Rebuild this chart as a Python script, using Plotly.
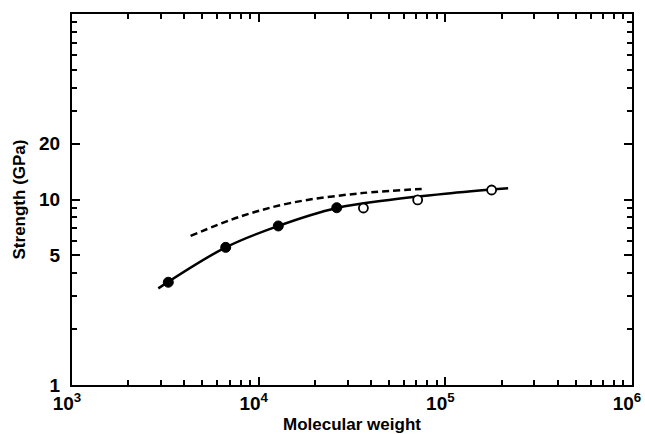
import plotly.graph_objects as go

# data (log-log)
mw_filled = [3280, 6660, 12740, 26200]
strength_filled = [3.58, 5.52, 7.2, 9.03]

mw_open = [36400, 71100, 177000]
strength_open = [9.0, 9.95, 11.25]

mw_fit = [2900, 6660, 12740, 26200, 50000, 100000, 217000]
strength_fit = [3.32, 5.52, 7.2, 9.0, 9.95, 10.75, 11.5]

mw_dash = [4320, 7940, 15000, 35000, 74700]
strength_dash = [6.36, 8.08, 9.6, 10.8, 11.4]

x_major = [1e3, 1e4, 1e5, 1e6]
x_labels = ["10<sup>3</sup>", "10<sup>4</sup>", "10<sup>5</sup>", "10<sup>6</sup>"]
y_major = [1, 5, 10, 20]
y_labels = ["1", "5", "10", "20"]

x_minor = [m * 10 ** d for d in (3, 4, 5) for m in range(2, 10)]
y_minor = [m * 10 ** d for d in (0, 1) for m in range(2, 10) if m * 10 ** d not in (5, 10, 20)]

font = dict(family="Liberation Sans, Arial, sans-serif", color="black")

fig = go.Figure()
fig.add_trace(go.Scatter(x=mw_dash, y=strength_dash, mode="lines",
                         line=dict(color="black", width=2.5, dash="7px,4px", shape="spline"),
                         showlegend=False))
fig.add_trace(go.Scatter(x=mw_fit, y=strength_fit, mode="lines",
                         line=dict(color="black", width=2.5, shape="spline"),
                         showlegend=False))
fig.add_trace(go.Scatter(x=mw_filled, y=strength_filled, mode="markers",
                         marker=dict(color="black", size=10, line=dict(color="black", width=1)),
                         showlegend=False))
fig.add_trace(go.Scatter(x=mw_open, y=strength_open, mode="markers",
                         marker=dict(color="white", size=9, line=dict(color="black", width=1.8)),
                         showlegend=False))

axis_common = dict(
    showgrid=False, zeroline=False, automargin=False,
    showline=True, linecolor="black", linewidth=2,
    mirror="allticks", ticks="inside", tickcolor="black", tickwidth=1.5, ticklen=8,
    tickfont=dict(size=19, weight="bold", **font),
)

fig.update_xaxes(type="log", range=[3, 6], tickmode="array", tickvals=x_major, ticktext=x_labels,
                 minor=dict(tickmode="array", tickvals=x_minor, ticks="inside", ticklen=5,
                            tickcolor="black", tickwidth=1.5, showgrid=False),
                 title=dict(text="Molecular weight", font=dict(size=17, weight="bold", **font), standoff=8),
                 ticklabelstandoff=0, ticklabelshift=-5,
                 **axis_common)
fig.update_yaxes(type="log", range=[0, 2], tickmode="array", tickvals=y_major, ticktext=y_labels,
                 minor=dict(tickmode="array", tickvals=y_minor, ticks="inside", ticklen=5,
                            tickcolor="black", tickwidth=1.5, showgrid=False),
                 title=dict(text="Strength (GPa)", font=dict(size=17, weight="bold", **font), standoff=9),
                 ticklabelstandoff=6,
                 **axis_common)

fig.update_layout(
    width=645, height=434,
    margin=dict(l=72, r=13, t=14, b=49),
    plot_bgcolor="white", paper_bgcolor="white",
    font=font,
)

# drop the default page margin so the figure fills the window exactly; no modebar
fig.write_html("out.html", config={"displayModeBar": False},
               post_script="document.body.style.margin='0';")
